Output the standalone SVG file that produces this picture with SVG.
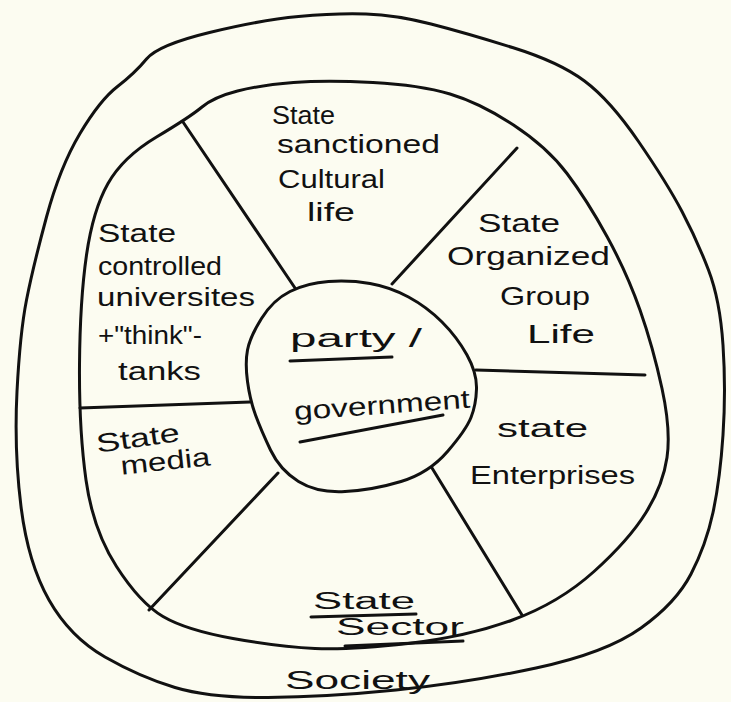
<svg xmlns="http://www.w3.org/2000/svg" width="731" height="702" viewBox="0 0 731 702">
<style>
.ln{fill:none;stroke:#111;stroke-width:3;stroke-linecap:round;stroke-linejoin:round}
.t{font-family:"Liberation Sans",Arial,sans-serif;font-size:26px;fill:#111}
.s{font-size:23px}
</style>
<rect width="731" height="702" fill="#fcfcf1"/>
<g id="society">
<path class="ln" d="M146.5,59 Q158,45 209.5,32.5 Q261,20 298.5,16.5 Q336,13 366,14 Q396,15 431,24 Q466,33 512.5,47.5 Q559,62 584.5,81 Q610,100 638.5,141.5 Q667,183 682,211.5 Q697,240 708.5,270 Q720,300 723,345 Q726,390 723,435 Q720,480 713,512.5 Q706,545 691,574 Q676,603 641,628 Q606,653 536,668 Q466,683 396,690 Q326,697 268,697.5 Q210,698 175,687.5 Q140,677 105,657 Q70,637 49,600 Q28,563 21,506.5 Q14,450 17,391.5 Q20,333 26.5,300 Q33,267 46.5,217 Q60,167 80,133.5 Q100,100 117.5,86.5 Q135,73 146.5,59 Z"/>
<text class="t" x="285" y="689" textLength="145" lengthAdjust="spacingAndGlyphs">Society</text>
</g>
<g id="state-sector">
<path class="ln" d="M202,107 Q214,97 237.5,91 Q261,85 293.5,82.5 Q326,80 373,82.5 Q420,85 450,94 Q480,103 513.5,125 Q547,147 567,173.5 Q587,200 607,236.5 Q627,273 640,310 Q653,347 662,388.5 Q671,430 667,457.5 Q663,485 646,512.5 Q629,540 594,571.5 Q559,603 512.5,620 Q466,637 408,643.5 Q350,650 315,648.5 Q280,647 233,638.5 Q186,630 163,616.5 Q140,603 116.5,566.5 Q93,530 86,480 Q79,430 79.5,365 Q80,300 86.5,255 Q93,210 108,183.5 Q123,157 156.5,137 Q190,117 202,107 Z"/>
<text class="t s" x="313" y="609" textLength="102" lengthAdjust="spacingAndGlyphs">State</text>
<path class="ln" d="M311,617 L416,614"/>
<text class="t s" x="336" y="635" textLength="128" lengthAdjust="spacingAndGlyphs">Sector</text>
<path class="ln" d="M345,646 L463,641"/>
</g>
<g id="connectors">
<path class="ln" d="M183,122 L295,288"/>
<path class="ln" d="M517,148 L392,284"/>
<path class="ln" d="M476,370 L645,375"/>
<path class="ln" d="M432,468 L522,615"/>
<path class="ln" d="M278,473 L149,610"/>
<path class="ln" d="M80,408 L250,402"/>
</g>
<g id="party-government">
<path class="ln" d="M247.5,381.5 Q245,363 247.5,350 Q250,337 261.5,318.5 Q273,300 290,291.5 Q307,283 328.5,281.5 Q350,280 370,283.5 Q390,287 408.5,297 Q427,307 442,322 Q457,337 467,355 Q477,373 476.5,389 Q476,405 471,417.5 Q466,430 447.5,451.5 Q429,473 401,481.5 Q373,490 345,491.5 Q317,493 298.5,481.5 Q280,470 270.5,450 Q261,430 255.5,415 Q250,400 247.5,381.5 Z"/>
<text class="t" x="290" y="347" textLength="132" lengthAdjust="spacingAndGlyphs">party /</text>
<path class="ln" d="M290,361 L392,357"/>
<text class="t" x="294" y="414" textLength="176" lengthAdjust="spacingAndGlyphs" transform="rotate(-4 380 405)">government</text>
<path class="ln" d="M300,442 L443,415"/>
</g>
<g id="cultural-life">
<text class="t" x="272" y="124" textLength="63" lengthAdjust="spacingAndGlyphs">State</text>
<text class="t" x="277" y="153" textLength="163" lengthAdjust="spacingAndGlyphs">sanctioned</text>
<text class="t" x="278" y="188" textLength="107" lengthAdjust="spacingAndGlyphs">Cultural</text>
<text class="t" x="307" y="221" textLength="48" lengthAdjust="spacingAndGlyphs">life</text>
</g>
<g id="universities">
<text class="t" x="98" y="242" textLength="78" lengthAdjust="spacingAndGlyphs">State</text>
<text class="t" x="98" y="275" textLength="124" lengthAdjust="spacingAndGlyphs">controlled</text>
<text class="t" x="97" y="306" textLength="158" lengthAdjust="spacingAndGlyphs">universites</text>
<text class="t" x="98" y="344" textLength="104" lengthAdjust="spacingAndGlyphs">+"think"-</text>
<text class="t" x="118" y="380" textLength="83" lengthAdjust="spacingAndGlyphs">tanks</text>
</g>
<g id="group-life">
<text class="t" x="478" y="232" textLength="82" lengthAdjust="spacingAndGlyphs">State</text>
<text class="t" x="447" y="265" textLength="163" lengthAdjust="spacingAndGlyphs">Organized</text>
<text class="t" x="500" y="305" textLength="90" lengthAdjust="spacingAndGlyphs">Group</text>
<text class="t" x="527" y="343" textLength="68" lengthAdjust="spacingAndGlyphs">Life</text>
</g>
<g id="media">
<text class="t" x="96" y="447" textLength="84" lengthAdjust="spacingAndGlyphs" transform="rotate(-8 138 440)">State</text>
<text class="t" x="120" y="470" textLength="90" lengthAdjust="spacingAndGlyphs" transform="rotate(-6 165 458)">media</text>
</g>
<g id="enterprises">
<text class="t" x="497" y="437" textLength="91" lengthAdjust="spacingAndGlyphs">state</text>
<text class="t" x="470" y="484" textLength="165" lengthAdjust="spacingAndGlyphs">Enterprises</text>
</g>
</svg>
